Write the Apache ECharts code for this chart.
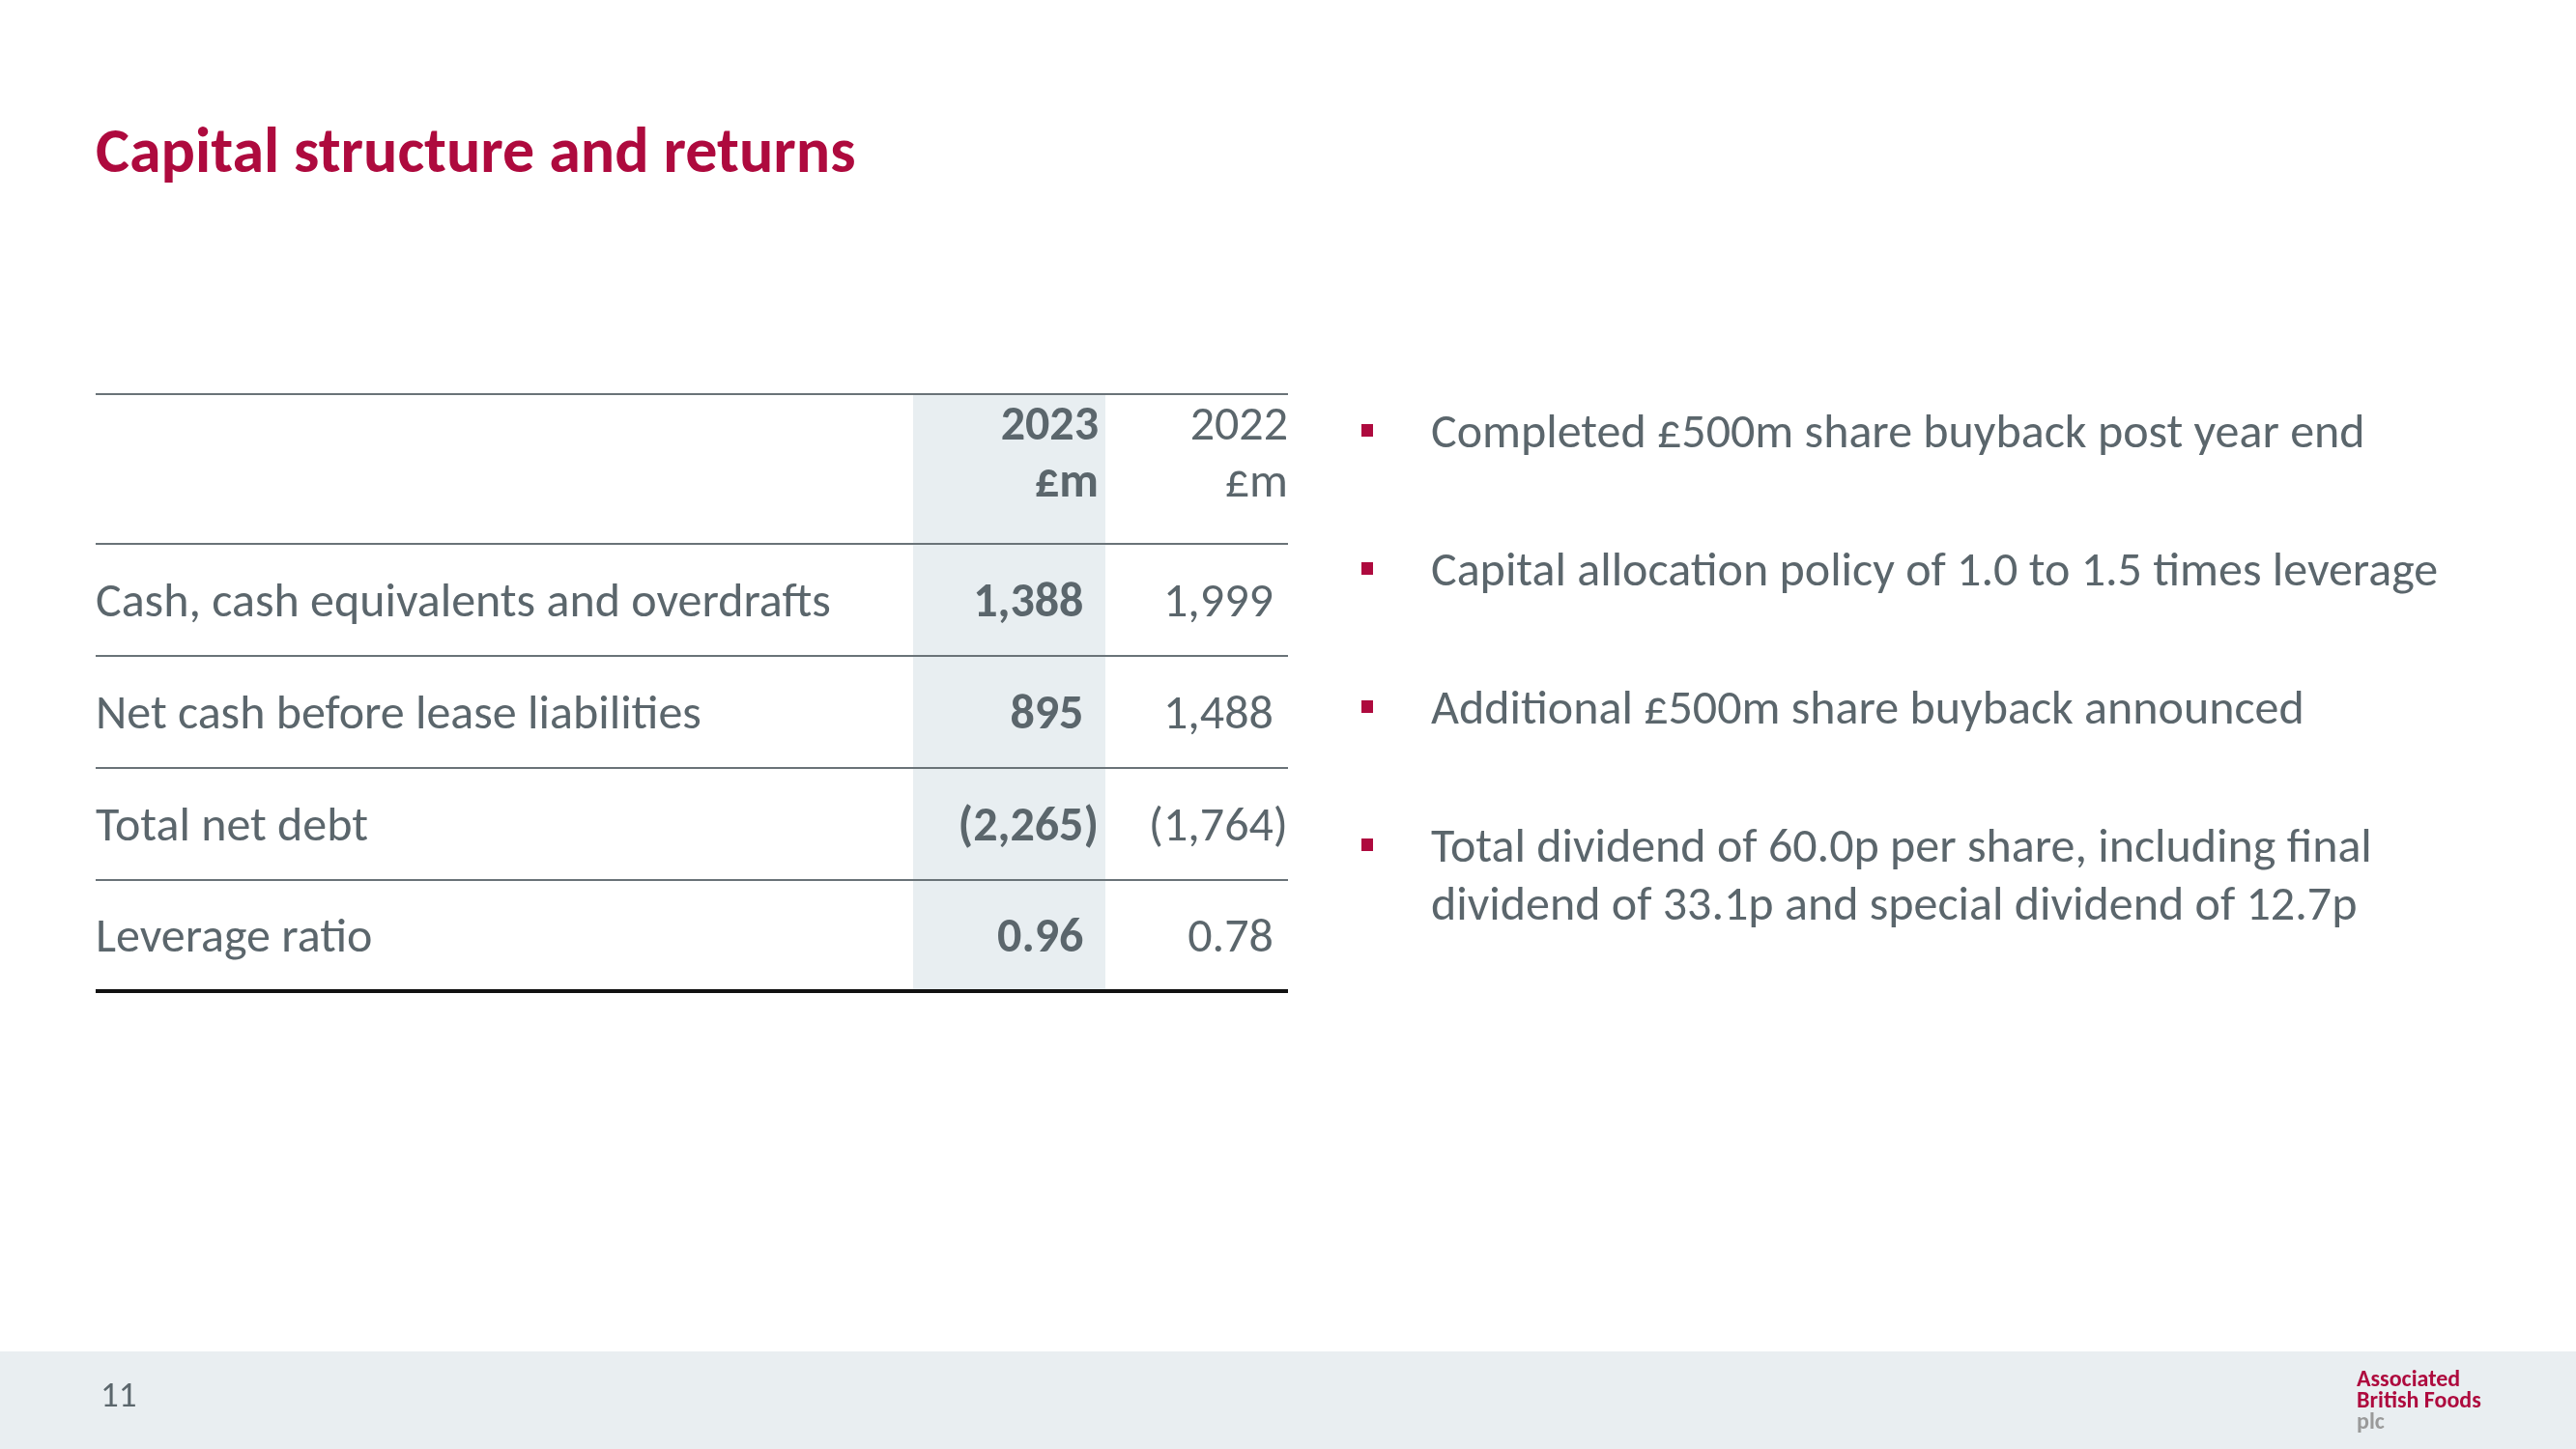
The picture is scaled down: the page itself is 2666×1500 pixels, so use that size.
<!DOCTYPE html>
<html>
<head>
<meta charset="utf-8">
<script src="https://cdn.jsdelivr.net/npm/echarts@6/dist/echarts.min.js"></script>
<style>
  html, body { margin: 0; padding: 0; background: #ffffff; }
  #chart { width: 2666px; height: 1500px; }
</style>
</head>
<body>
<div id="chart"></div>
<script>
// ---- Data ----
const titleText = 'Capital structure and returns';
const columnYears = ['2023', '2022'];
const columnUnits = ['£m', '£m'];
const rowLabels = [
  'Cash, cash equivalents and overdrafts',
  'Net cash before lease liabilities',
  'Total net debt',
  'Leverage ratio'
];
const values2023 = [1388, 895, -2265, 0.96];
const values2022 = [1999, 1488, -1764, 0.78];
const rowDecimals = [0, 0, 0, 2];
const bulletPoints = [
  ['Completed £500m share buyback post year end'],
  ['Capital allocation policy of 1.0 to 1.5 times leverage'],
  ['Additional £500m share buyback announced'],
  ['Total dividend of 60.0p per share, including final', 'dividend of 33.1p and special dividend of 12.7p']
];
const pageNumber = '11';
const logoLines = ['Associated', 'British Foods', 'plc'];

// ---- Style / layout ----
const FONT = 'Calibri, Carlito, Lato, "Open Sans", sans-serif';
const CRIMSON = '#AE0A3E';
const GREY = '#5B666C';
const SHADE = '#E8EEF1';
const BODY = 50;

function fmt(v, d) {
  const s = Math.abs(v).toLocaleString('en-GB', { minimumFractionDigits: d, maximumFractionDigits: d });
  return v < 0 ? '(' + s + ')' : s + '{p|)}';
}

const chart = echarts.init(document.getElementById('chart'), null, { renderer: 'canvas' });
const g = [];

// footer band
g.push({ type: 'rect', shape: { x: 0, y: 1399, width: 2666, height: 101 }, style: { fill: '#E9EEF1' }, z: 0 });

// title
g.push({ type: 'text', x: 99, y: 161, style: { text: titleText, fill: CRIMSON, fontFamily: FONT, fontSize: 66, fontWeight: 'bold', align: 'left', verticalAlign: 'middle' } });

// table geometry
const tLeft = 99, tRight = 1333;
const lineYs = [408, 563, 679, 795, 911, 1026];
const colRight = [1137, 1333];
const shadeX = [945, 1144];

g.push({ type: 'rect', shape: { x: shadeX[0], y: lineYs[0], width: shadeX[1] - shadeX[0], height: lineYs[5] - lineYs[0] }, style: { fill: SHADE }, z: 1 });

lineYs.forEach((y, i) => {
  const last = i === lineYs.length - 1;
  g.push({ type: 'line', shape: { x1: tLeft, y1: y, x2: tRight, y2: y }, style: { stroke: last ? '#111111' : '#6A7378', lineWidth: last ? 4 : 2 }, z: 5 });
});

// headers
columnYears.forEach((yr, c) => {
  const bold = c === 0 ? 'bold' : 'normal';
  g.push({ type: 'text', x: colRight[c], y: 442, z: 6, style: { text: yr, fill: GREY, fontFamily: FONT, fontSize: BODY, fontWeight: bold, align: 'right', verticalAlign: 'middle' } });
  g.push({ type: 'text', x: colRight[c], y: 501, z: 6, style: { text: columnUnits[c], fill: GREY, fontFamily: FONT, fontSize: BODY, fontWeight: bold, align: 'right', verticalAlign: 'middle' } });
});

// rows
const cols = [values2023, values2022];
rowLabels.forEach((lab, r) => {
  const cy = (lineYs[r + 1] + lineYs[r + 2]) / 2 + 4;
  g.push({ type: 'text', x: tLeft, y: cy, z: 6, style: { text: lab, fill: GREY, fontFamily: FONT, fontSize: BODY, align: 'left', verticalAlign: 'middle' } });
  cols.forEach((arr, c) => {
    const bold = c === 0 ? 'bold' : 'normal';
    g.push({ type: 'text', x: colRight[c], y: cy, z: 6, style: {
      text: fmt(arr[r], rowDecimals[r]), fill: GREY, fontFamily: FONT, fontSize: BODY, fontWeight: bold, align: 'right', verticalAlign: 'middle',
      rich: { p: { fill: 'rgba(0,0,0,0)', fontFamily: FONT, fontSize: BODY, fontWeight: bold } }
    } });
  });
});

// bullets
const bulletYs = [450, 593, 736, 879];
const lineGap = 60;
bulletPoints.forEach((lines, i) => {
  g.push({ type: 'rect', shape: { x: 1409, y: bulletYs[i] - 11, width: 12, height: 13 }, style: { fill: CRIMSON }, z: 6 });
  lines.forEach((t, k) => {
    g.push({ type: 'text', x: 1481, y: bulletYs[i] + k * lineGap, z: 6, style: { text: t, fill: GREY, fontFamily: FONT, fontSize: BODY, align: 'left', verticalAlign: 'middle' } });
  });
});

// footer
g.push({ type: 'text', x: 104, y: 1447, z: 6, style: { text: pageNumber, fill: GREY, fontFamily: FONT, fontSize: 37, align: 'left', verticalAlign: 'middle' } });
logoLines.forEach((t, i) => {
  g.push({ type: 'text', x: 2439, y: 1429 + i * 22, z: 6, style: { text: t, fill: i < 2 ? CRIMSON : '#9A9A9A', fontFamily: FONT, fontSize: 24, fontWeight: 'bold', align: 'left', verticalAlign: 'middle' } });
});

chart.setOption({
  backgroundColor: '#ffffff',
  animation: false,
  graphic: { elements: g }
});
</script>
</body>
</html>
